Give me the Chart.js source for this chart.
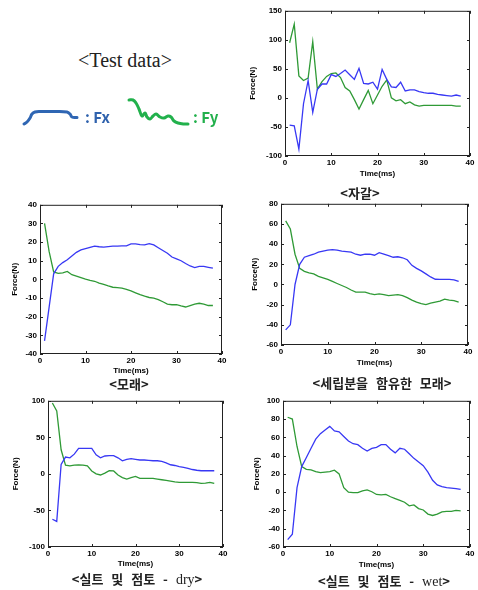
<!DOCTYPE html>
<html>
<head>
<meta charset="utf-8">
<script src="https://cdn.jsdelivr.net/npm/chart.js@4.4.0/dist/chart.umd.min.js"></script>
<style>
  body { margin: 0; background: #fff; }
  #page { position: relative; width: 478px; height: 590px; overflow: hidden; }
  canvas { position: absolute; }
  .cap { position: absolute; transform: translate(-50%, -50%); white-space: nowrap;
         font-family: "Noto Sans CJK KR", sans-serif; font-size: 13px; font-weight: bold;
         word-spacing: 5px; color: #222; }
  .cap .lat { font-family: "Liberation Serif", serif; font-weight: normal; font-size: 14px; }
  .leg { position: absolute; transform: translateY(-50%); font-family: "Noto Sans CJK KR", sans-serif;
         font-size: 15px; font-weight: bold; }
</style>
</head>
<body>
<div id="page">
  <div class="cap" style="left:125px; top:60px; font-family:'Liberation Serif', serif; font-size:20px; font-weight:normal; word-spacing:0;">&lt;Test data&gt;</div>
  <canvas id="legendShapes"></canvas>
  <div class="leg" style="left:85px; top:116px; color:#2f62ad;">: Fx</div>
  <div class="leg" style="left:193px; top:116px; color:#22b04c;">: Fy</div>

  <canvas id="gravel"></canvas>
  <canvas id="sand"></canvas>
  <canvas id="siltySand"></canvas>
  <canvas id="dry"></canvas>
  <canvas id="wet"></canvas>

  <div class="cap" style="left:360px; top:192px;">&lt;자갈&gt;</div>
  <div class="cap" style="left:129px; top:383px;">&lt;모래&gt;</div>
  <div class="cap" style="left:382px; top:382px;">&lt;세립분을 함유한 모래&gt;</div>
  <div class="cap" style="left:137px; top:578px;">&lt;실트 및 점토 - <span class="lat">dry</span>&gt;</div>
  <div class="cap" style="left:384px; top:580px;">&lt;실트 및 점토 - <span class="lat">wet</span>&gt;</div>
</div>
<script>
// time (ms)
const time = [1,2,3,4,5,6,7,8,9,10,11,12,13,14,15,16,17,18,19,20,21,22,23,24,25,26,27,28,29,30,31,32,33,34,35,36,37,38];

// 자갈
const gravelFx = [-47,-48,-88,-10,30,-25,15,24,24,40,37,42,48,40,32,51,25,24,27,15,49,32,19,18,27,12,14,14,11,9,8,8,6,5,4,3,5,3];
const gravelFy = [95,127,38,30,34,97,15,28,37,42,43,35,18,12,-3,-19,-3,13,-10,5,20,31,0,-5,-3,-10,-7,-12,-14,-13,-13,-13,-13,-13,-13,-13,-14,-14];
// 모래
const sandFx = [-33,-15,3,7,9,10.5,12.5,14.5,15.8,16.5,17.2,17.8,17.5,17.3,17.6,17.8,17.8,18,18,19,19,18.6,18.5,19.2,18.5,17,15.5,14,12,11,10,8.5,7.2,6.3,7,7,6.5,6];
const sandFy = [30,15,4,3.2,3.5,4.3,2.5,1.8,1,0.2,-0.5,-1,-2,-2.7,-3.5,-4.2,-4.4,-4.7,-5.3,-6.2,-7.2,-8.2,-9,-9.7,-10,-10.8,-12,-13.2,-13.6,-13.5,-14.2,-14.8,-14,-13.2,-12.8,-13.2,-14,-14];
// 세립분을 함유한 모래
const siltySandFx = [-45,-40,0,20,27,28.5,30,32,33,34,34.5,34,33,32.5,32,30,29,30,30,29,31.5,30,28.5,27,27.5,26.5,24.5,19,16,13.5,10.5,7.5,5.2,5,5,5,4.5,3];
const siltySandFy = [63,55,30,16,13,11.5,10.5,8,6.5,5,3,1,-1,-3,-5.5,-7.6,-7.6,-7.6,-9,-10,-9.3,-10,-11,-10.5,-10,-11,-13,-15.5,-17.5,-19,-20,-18.5,-17.5,-16.5,-14.5,-15.5,-16,-17.5];
// 실트 및 점토 - dry
const dryFx = [-62,-65,13,23,22,27,35,35,35,35,26,22,24.5,25,25,22,18,20,21,20,19,19,18.5,18,18,17,15,12.5,11.5,10,9,7.5,6,5,4.3,4.3,4.3,4.3];
const dryFy = [97,86,33,12,11,12,12.4,12,11,4,0,-1.5,1,4.5,4,-1.5,-5,-7,-5,-3.5,-6,-6,-6,-6,-7,-8,-9,-10,-11,-11.5,-11.5,-11.5,-11.5,-12,-13,-12.5,-11.5,-13];
// 실트 및 점토 - wet
const wetFx = [-52,-46,5,28,38,48,58,64,68,72,67,66,61,56,53,52,48,45,48,49,52,52,47,43,48,47,42,37,33,29,22,13,8,6,5,4.5,4,3];
const wetFy = [82,80,50,28,25,24.5,22.5,21.5,22,22.5,24,20,5,0,-0.5,-0.5,1.5,2.5,0.5,-2.5,-3,-2.5,-5,-7,-9,-11,-15,-14,-18,-19.5,-24,-25.5,-24,-21.5,-21,-21,-20,-20.5];

// y axis [min, max, step]
const gravelAxis = [-100, 150, 50];
const sandAxis = [-40, 40, 10];
const siltySandAxis = [-60, 80, 20];
const dryAxis = [-100, 100, 50];
const wetAxis = [-60, 100, 20];

// legend glyph shapes
const fxGlyphX = [6,9,12,14,17,22,37,49,52,54,59];
const fxGlyphY = [29,27,23,19,17,16.5,16.5,17,19,22,22.5];
const fyGlyphX = [111,115,118,121,124,127,129,132,135,138,142,146,150,153,156,160,166,170];
const fyGlyphY = [5,5,8,14,21,18,22,24,21,19,22,23,21,22,26,28,29,29];

const BLUE = '#3838f4';
const GREEN = '#2f9a36';
const tickFont = { family: 'Liberation Sans', size: 8, weight: 'bold' };

const frameTicks = {
  id: 'frameTicks',
  afterDraw(chart) {
    const { ctx, chartArea: a, scales: { x, y } } = chart;
    ctx.save();
    ctx.strokeStyle = '#222';
    ctx.lineWidth = 1;
    ctx.strokeRect(a.left + 0.5, a.top + 0.5, a.right - a.left - 1, a.bottom - a.top - 1);
    ctx.beginPath();
    x.ticks.forEach(t => {
      const px = Math.round(x.getPixelForValue(t.value)) + 0.5;
      ctx.moveTo(px, a.top); ctx.lineTo(px, a.top + 3);
      ctx.moveTo(px, a.bottom); ctx.lineTo(px, a.bottom - 3);
    });
    y.ticks.forEach(t => {
      const py = Math.round(y.getPixelForValue(t.value)) + 0.5;
      ctx.moveTo(a.left, py); ctx.lineTo(a.left + 3, py);
      ctx.moveTo(a.right, py); ctx.lineTo(a.right - 3, py);
    });
    ctx.stroke();
    ctx.restore();
  }
};

function panel(id, fx, fy, axis, box) {
  const PT = 6, PR = 8;
  const cv = document.getElementById(id);
  cv.style.left = (box.x0 - box.yw) + 'px';
  cv.style.top = (box.y0 - PT) + 'px';
  cv.width = box.x1 - box.x0 + box.yw + PR;
  cv.height = box.y1 - box.y0 + PT + box.xh;

  new Chart(cv, {
    type: 'line',
    data: {
      datasets: [
        { data: time.map((t, i) => ({ x: t, y: fx[i] })), borderColor: BLUE },
        { data: time.map((t, i) => ({ x: t, y: fy[i] })), borderColor: GREEN }
      ]
    },
    options: {
      responsive: false,
      animation: false,
      layout: { padding: { top: PT, right: PR, left: 0, bottom: 0 } },
      elements: { point: { radius: 0 }, line: { borderWidth: 1.3, tension: 0 } },
      plugins: { legend: { display: false }, tooltip: { enabled: false } },
      scales: {
        x: {
          type: 'linear', min: 0, max: 40,
          ticks: { stepSize: 10, font: tickFont, color: '#000', padding: 2, maxRotation: 0 },
          grid: { display: false, drawTicks: false },
          border: { display: false },
          title: { display: true, text: 'Time(ms)', font: tickFont, color: '#000', padding: 0 },
          afterFit: s => { s.height = box.xh; }
        },
        y: {
          min: axis[0], max: axis[1],
          ticks: { stepSize: axis[2], font: tickFont, color: '#000', padding: 3 },
          grid: { display: false, drawTicks: false },
          border: { display: false },
          title: { display: true, text: 'Force(N)', font: tickFont, color: '#000', padding: 0 },
          afterFit: s => { s.width = box.yw; }
        }
      }
    },
    plugins: [frameTicks]
  });
}

panel('gravel', gravelFx, gravelFy, gravelAxis, { x0: 285, x1: 470, y0: 9, y1: 156, yw: 37, xh: 23 });
panel('sand', sandFx, sandFy, sandAxis, { x0: 40, x1: 222, y0: 203, y1: 354, yw: 30, xh: 22 });
panel('siltySand', siltySandFx, siltySandFy, siltySandAxis, { x0: 281, x1: 468, y0: 202, y1: 345, yw: 31, xh: 23 });
panel('dry', dryFx, dryFy, dryAxis, { x0: 48, x1: 223, y0: 399, y1: 547, yw: 37, xh: 22 });
panel('wet', wetFx, wetFy, wetAxis, { x0: 283, x1: 470, y0: 399, y1: 547, yw: 31, xh: 23 });

// hand-drawn legend glyphs
const lg = document.getElementById('legendShapes');
lg.style.left = '18px';
lg.style.top = '95px';
lg.width = 180;
lg.height = 36;
new Chart(lg, {
  type: 'scatter',
  data: {
    datasets: [
      { data: fxGlyphX.map((v, i) => ({ x: v, y: fxGlyphY[i] })), borderColor: '#2f66b3' },
      { data: fyGlyphX.map((v, i) => ({ x: v, y: fyGlyphY[i] })), borderColor: '#22b14c' }
    ]
  },
  options: {
    responsive: false,
    animation: false,
    showLine: true,
    layout: { padding: 0 },
    elements: { point: { radius: 0 }, line: { borderWidth: 3, tension: 0.4, borderCapStyle: 'round', borderJoinStyle: 'round' } },
    plugins: { legend: { display: false }, tooltip: { enabled: false } },
    scales: {
      x: { display: false, min: 0, max: 180 },
      y: { display: false, min: 0, max: 36, reverse: true }
    }
  }
});
</script>
</body>
</html>
